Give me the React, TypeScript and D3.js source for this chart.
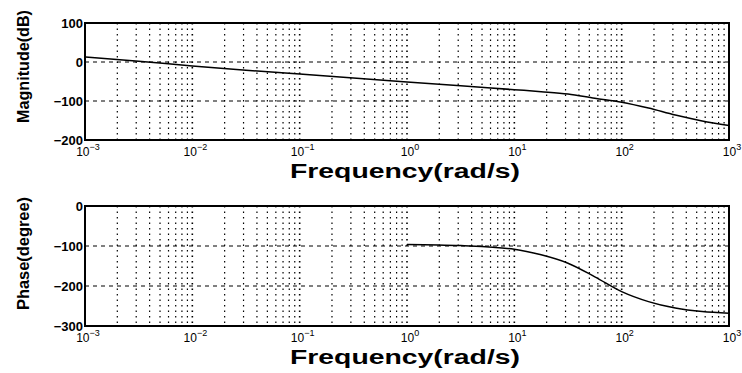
import React, { useRef, useEffect } from "react";
import * as d3 from "d3";

// magnitude response (log10 of w, dB)
const magLogW = [-3, -2.5, -2, -1.5, -1, -0.5, 0, 0.5, 1, 1.25, 1.5, 1.75, 2, 2.25, 2.5, 2.75, 3];
const magDb = [13, 2, -10, -21, -31, -41, -51, -61, -71, -76, -82, -93, -103, -118, -136, -151, -163];

// phase response, only drawn from 1 rad/s
const phaseLogW = [0, 0.5, 1, 1.25, 1.5, 1.75, 2, 2.25, 2.5, 2.75, 3];
const phaseDeg = [-96, -99, -108, -122, -143, -177, -214, -239, -255, -264, -268];

const decades = [-3, -2, -1, 0, 1, 2, 3];
const magTicks = [100, 0, -100, -200];
const phaseTicks = [0, -100, -200, -300];

const font = "'Liberation Sans', Arial, sans-serif";

const App = () => {
  const svgRef = useRef<SVGSVGElement>(null);

  useEffect(() => {
    if (!svgRef.current) return;
    const svg = d3.select(svgRef.current);
    svg.selectAll("*").remove();

    const left = 85;
    const right = 729;

    const x = d3.scaleLog().domain([1e-3, 1e3]).range([left, right]);

    // minor grid positions: 1..9 in each decade
    const gridX: number[] = [];
    for (let d = -3; d < 3; d++) {
      for (let k = 1; k < 10; k++) gridX.push(k * Math.pow(10, d));
    }
    gridX.push(1e3);

    const drawPanel = (
      top: number,
      bottom: number,
      domain: [number, number],
      ticks: number[],
      xs: number[],
      ys: number[],
      ylabel: string,
      ylabelY: number
    ) => {
      const y = d3.scaleLinear().domain(domain).range([bottom, top]);
      const g = svg.append("g");

      // vertical dotted grid
      g.selectAll(".vgrid")
        .data(gridX)
        .enter()
        .append("line")
        .attr("x1", (d) => x(d))
        .attr("x2", (d) => x(d))
        .attr("y1", top)
        .attr("y2", bottom)
        .attr("stroke", "#000")
        .attr("stroke-width", (d) => (Math.abs(Math.log10(d) - Math.round(Math.log10(d))) < 1e-9 ? 1.6 : 1.2))
        .attr("stroke-dasharray", "1.5,4");

      // horizontal dashed grid
      g.selectAll(".hgrid")
        .data(ticks)
        .enter()
        .append("line")
        .attr("x1", left)
        .attr("x2", right)
        .attr("y1", (d) => y(d))
        .attr("y2", (d) => y(d))
        .attr("stroke", "#000")
        .attr("stroke-width", 1)
        .attr("stroke-dasharray", "4,4");

      // frame
      g.append("rect")
        .attr("x", left)
        .attr("y", top)
        .attr("width", right - left)
        .attr("height", bottom - top)
        .attr("fill", "none")
        .attr("stroke", "#000")
        .attr("stroke-width", 2);

      // curve
      const line = d3
        .line<number>()
        .x((_, i) => x(Math.pow(10, xs[i])))
        .y((d) => y(d))
        .curve(d3.curveMonotoneX);
      g.append("path")
        .attr("d", line(ys))
        .attr("fill", "none")
        .attr("stroke", "#000")
        .attr("stroke-width", 1.5);

      // y tick labels
      g.selectAll(".ytick")
        .data(ticks)
        .enter()
        .append("text")
        .attr("x", left - 2)
        .attr("y", (d) => y(d))
        .attr("dy", "0.35em")
        .attr("text-anchor", "end")
        .style("font-family", font)
        .style("font-size", "13px")
        .style("font-weight", "bold")
        .text((d) => (d < 0 ? "\u2212" + Math.abs(d) : String(d)));

      // x tick labels: 10^n
      const xt = g
        .selectAll(".xtick")
        .data(decades)
        .enter()
        .append("text")
        .attr("x", (d) => x(Math.pow(10, d)) + 3)
        .attr("y", bottom + 16)
        .attr("text-anchor", "middle")
        .style("font-family", font)
        .style("font-size", "12px");
      xt.append("tspan").text("10");
      xt.append("tspan")
        .attr("dy", -6)
        .style("font-size", "9px")
        .text((d) => (d < 0 ? "\u2212" + Math.abs(d) : String(d)));

      // x axis title
      g.append("text")
        .attr("x", 290)
        .attr("y", bottom + 38)
        .attr("textLength", 230)
        .attr("lengthAdjust", "spacingAndGlyphs")
        .style("font-family", font)
        .style("font-size", "20px")
        .style("font-weight", "bold")
        .text("Frequency(rad/s)");

      // y axis title
      g.append("text")
        .attr("transform", `translate(29,${ylabelY + 56}) rotate(-90)`)
        .attr("textLength", 113)
        .attr("lengthAdjust", "spacingAndGlyphs")
        .style("font-family", font)
        .style("font-size", "17px")
        .style("font-weight", "bold")
        .text(ylabel);
    };

    drawPanel(23, 140, [-200, 100], magTicks, magLogW, magDb, "Magnitude(dB)", 67);
    drawPanel(206, 326, [-300, 0], phaseTicks, phaseLogW, phaseDeg, "Phase(degree)", 254);
  }, []);

  return (
    <svg
      ref={svgRef}
      width={742}
      height={373}
      style={{ position: "absolute", left: 0, top: 0, background: "#fff" }}
    ></svg>
  );
};

export default App;
